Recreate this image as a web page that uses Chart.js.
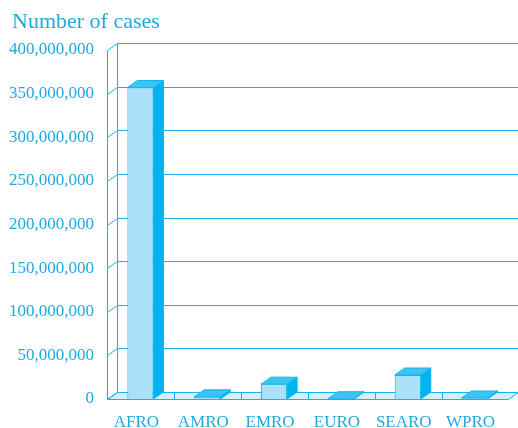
<!DOCTYPE html>
<html lang="en">
<head>
  <meta charset="UTF-8">
  <title>Number of cases</title>
  <script src="https://cdn.jsdelivr.net/npm/chart.js"></script>
  <style>
    body { margin: 0; background: #fff; }
  </style>
</head>
<body>
  <canvas id="grafico" width="518" height="428"></canvas>

  <script>
    // datos
    const regiones = ['AFRO', 'AMRO', 'EMRO', 'EURO', 'SEARO', 'WPRO'];
    const casos = [357000000, 2500000, 17000000, 300000, 27500000, 1200000];
    const ticksY = [0, 50000000, 100000000, 150000000, 200000000, 250000000, 300000000, 350000000, 400000000];

    const DX = 10, DY = -7;
    const azul = '#14b4ee';
    const texto = '#1ea9e1';
    const frente = '#aae0f9';
    const lado = '#00b4ef';
    const tapa = '#3ec4f2';
    const piso = '#d5eff9';

    function linea(ctx, x1, y1, x2, y2) {
      ctx.beginPath();
      ctx.moveTo(x1, y1);
      ctx.lineTo(x2, y2);
      ctx.stroke();
    }

    function poligono(ctx, pts, fill) {
      ctx.beginPath();
      ctx.moveTo(pts[0][0], pts[0][1]);
      for (let k = 1; k < pts.length; k++) ctx.lineTo(pts[k][0], pts[k][1]);
      ctx.closePath();
      if (fill) { ctx.fillStyle = fill; ctx.fill(); }
      ctx.stroke();
    }

    const caja3d = {
      id: 'caja3d',
      beforeDatasetsDraw(chart) {
        const ctx = chart.ctx;
        const a = chart.chartArea;
        const y = chart.scales.y;
        const L = Math.round(a.left) + 0.5, R = Math.round(a.right) + 0.5;
        const T = Math.round(a.top) + 0.5, B = Math.round(a.bottom) + 0.5;
        ctx.save();
        ctx.strokeStyle = azul;
        ctx.lineWidth = 1;
        // piso
        poligono(ctx, [[L, B], [R, B], [R + DX, B + DY], [L + DX, B + DY]], piso);
        const paso = (R - L) / regiones.length;
        for (let i = 1; i < regiones.length; i++) {
          const bx = Math.round(L + i * paso) + 0.5;
          linea(ctx, bx, B + DY, bx, B);
        }
        // pared del fondo y pared izquierda
        ticksY.forEach(v => {
          const py = Math.round(y.getPixelForValue(v)) + 0.5;
          linea(ctx, L + DX, py + DY, R + DX, py + DY);
          linea(ctx, L, py, L + DX, py + DY);
        });
        linea(ctx, L, T, L, B);
        linea(ctx, L + DX, T + DY, L + DX, B + DY);
        ctx.restore();
      },
      afterDatasetsDraw(chart) {
        const ctx = chart.ctx;
        const meta = chart.getDatasetMeta(0);
        ctx.save();
        ctx.strokeStyle = azul;
        ctx.lineWidth = 1;
        meta.data.forEach(el => {
          const x1 = el.x - el.width / 2, x2 = el.x + el.width / 2;
          const yt = el.y, yb = el.base;
          poligono(ctx, [[x2, yt], [x2 + DX, yt + DY], [x2 + DX, yb + DY], [x2, yb]], lado);
          poligono(ctx, [[x1, yt], [x2, yt], [x2 + DX, yt + DY], [x1 + DX, yt + DY]], tapa);
        });
        ctx.restore();
      },
      afterDraw(chart) {
        const ctx = chart.ctx;
        ctx.save();
        ctx.fillStyle = texto;
        ctx.font = '22px "Liberation Serif"';
        ctx.textBaseline = 'alphabetic';
        ctx.fillText('Number of cases', 12, 28);
        ctx.restore();
      }
    };

    new Chart(document.getElementById('grafico'), {
      type: 'bar',
      data: {
        labels: regiones,
        datasets: [{
          data: casos,
          backgroundColor: frente,
          borderColor: azul,
          borderWidth: 1,
          barPercentage: 0.39,
          categoryPercentage: 1
        }]
      },
      options: {
        responsive: false,
        devicePixelRatio: 1,
        animation: false,
        layout: { padding: { left: 0, right: 10, top: 50, bottom: 0 } },
        plugins: { legend: { display: false }, tooltip: { enabled: false } },
        scales: {
          x: {
            grid: { display: false, drawTicks: false },
            border: { display: false },
            ticks: { color: texto, font: { family: 'Liberation Serif', size: 17 }, padding: 13, labelOffset: -4 },
            afterFit(s) { s.height = 29; }
          },
          y: {
            min: 0,
            max: 400000000,
            afterBuildTicks(s) { s.ticks = ticksY.map(v => ({ value: v })); },
            grid: { display: false, drawTicks: false },
            border: { display: false },
            ticks: {
              color: texto,
              font: { family: 'Liberation Serif', size: 17 },
              padding: 13,
              callback: v => v.toLocaleString('en-US')
            },
            afterFit(s) { s.width = 107; }
          }
        }
      },
      plugins: [caja3d]
    });
  </script>
</body>
</html>
